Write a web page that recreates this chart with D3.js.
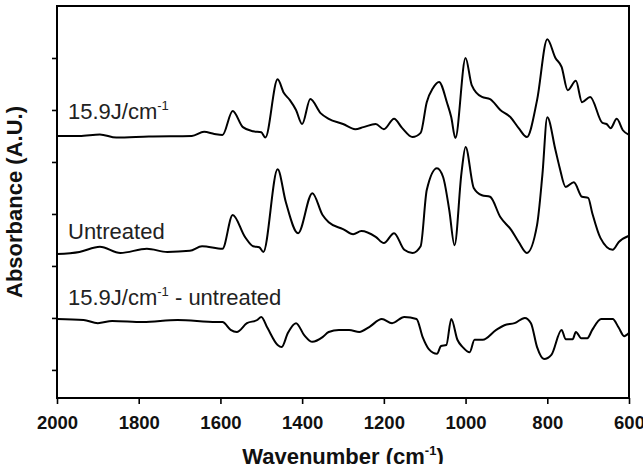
<!DOCTYPE html>
<html>
<head>
<meta charset="utf-8">
<script src="https://cdn.jsdelivr.net/npm/d3@7"></script>
<style>
  html, body { margin: 0; padding: 0; background: #fff; }
  svg { display: block; }
  text { font-family: Arial, "Liberation Sans", Helvetica, sans-serif; }
</style>
</head>
<body>
<svg id="chart" width="643" height="464"></svg>
<script>
// ---- Data (wavenumber cm^-1, absorbance A.U. with vertical offsets as plotted) ----
const xTicks = [2000, 1800, 1600, 1400, 1200, 1000, 800, 600];
const yTicks = [0, 1, 2, 3, 4, 5, 6];

const treated = [
  [2000,4.50],[1945,4.50],[1895,4.53],[1855,4.47],[1775,4.49],[1670,4.50],[1640,4.58],
  [1615,4.54],[1595,4.52],[1570,4.98],[1545,4.67],[1520,4.59],[1500,4.57],[1490,4.47],
  [1460,5.59],[1445,5.33],[1430,5.19],[1415,5.00],[1400,4.73],[1380,5.21],[1355,4.94],
  [1335,4.83],[1300,4.73],[1270,4.63],[1250,4.67],[1220,4.73],[1200,4.63],[1175,4.83],
  [1155,4.65],[1130,4.48],[1110,4.56],[1095,5.15],[1080,5.42],[1065,5.54],[1045,5.13],
  [1035,4.86],[1025,4.46],[1000,6.00],[985,5.48],[960,5.25],[940,5.21],[915,5.00],
  [890,4.86],[870,4.65],[850,4.48],[825,5.19],[800,6.36],[780,6.00],[765,5.83],
  [750,5.38],[730,5.56],[715,5.15],[695,5.25],[665,4.75],[655,4.73],[645,4.65],
  [630,4.83],[615,4.61],[600,4.52]
];

const untreated = [
  [2000,2.23],[1945,2.27],[1895,2.37],[1845,2.25],[1780,2.33],[1730,2.27],[1675,2.29],
  [1645,2.38],[1595,2.33],[1570,2.98],[1540,2.56],[1520,2.38],[1505,2.36],[1495,2.27],
  [1460,3.86],[1440,3.23],[1410,2.63],[1375,3.40],[1350,2.98],[1335,2.84],[1300,2.71],
  [1275,2.61],[1255,2.67],[1220,2.56],[1200,2.44],[1175,2.63],[1150,2.31],[1130,2.25],
  [1110,2.38],[1095,3.46],[1070,3.88],[1055,3.71],[1040,3.08],[1027,2.40],[1010,3.79],
  [1000,4.29],[980,3.50],[960,3.36],[940,3.33],[915,2.94],[888,2.69],[870,2.46],
  [850,2.25],[825,2.79],[812,3.75],[800,4.86],[780,4.23],[770,3.90],[755,3.52],
  [735,3.61],[715,3.33],[700,3.31],[690,3.02],[670,2.54],[640,2.31],[625,2.46],[600,2.58]
];

const difference = [
  [2000,0.98],[1935,0.96],[1900,0.90],[1865,0.94],[1790,0.92],[1705,0.96],[1610,0.92],
  [1595,0.92],[1575,0.77],[1560,0.73],[1535,0.90],[1510,0.96],[1500,1.02],[1485,0.81],
  [1460,0.48],[1450,0.44],[1435,0.71],[1415,0.90],[1395,0.67],[1375,0.54],[1350,0.63],
  [1335,0.73],[1310,0.77],[1285,0.77],[1260,0.73],[1235,0.83],[1205,0.98],[1180,0.90],
  [1150,1.02],[1120,0.98],[1105,0.63],[1090,0.40],[1070,0.31],[1060,0.46],[1047,0.48],
  [1035,0.98],[1020,0.58],[1007,0.44],[990,0.34],[978,0.58],[958,0.58],[925,0.77],
  [905,0.86],[880,0.90],[855,1.00],[840,0.90],[825,0.44],[808,0.21],[790,0.29],
  [765,0.77],[755,0.59],[738,0.59],[730,0.73],[717,0.61],[702,0.61],[690,0.77],
  [668,0.98],[640,0.98],[625,0.81],[612,0.65],[600,0.71]
];

const seriesLabels = ["15.9J/cm", "Untreated", "15.9J/cm"];
const labelSuffix = ["", "", " - untreated"];
const labelSup = ["-1", "", "-1"];
const labelY = [4.82, 2.51, 1.25];

// ---- Layout ----
const svg = d3.select("#chart");
const mLeft = 57, mRight = 629, mTop = 6, mBottom = 398;

const x = d3.scaleLinear().domain([2000, 600]).range([mLeft, mRight]);
const y = d3.scaleLinear().domain([-0.54, 7]).range([mBottom, mTop]);

// Axes
const xAxis = d3.axisBottom(x).tickValues(xTicks).tickSize(6).tickPadding(12).tickFormat(d3.format("d"));
const gx = svg.append("g").attr("transform", `translate(0,${mBottom})`).call(xAxis);
gx.select(".domain").remove();
gx.selectAll(".tick line").attr("stroke", "#000").attr("stroke-width", 1.6);
gx.selectAll(".tick text")
  .attr("fill", "#111")
  .style("font-size", "18.5px")
  .style("font-weight", "bold");

const yAxis = d3.axisLeft(y).tickValues(yTicks).tickSize(5).tickFormat("");
const gy = svg.append("g").attr("transform", `translate(${mLeft},0)`).call(yAxis);
gy.select(".domain").remove();
gy.selectAll(".tick line").attr("stroke", "#000").attr("stroke-width", 1.6);

// Frame
svg.append("rect")
  .attr("x", mLeft).attr("y", mTop)
  .attr("width", mRight - mLeft).attr("height", mBottom - mTop)
  .attr("fill", "none").attr("stroke", "#000").attr("stroke-width", 2);

// Lines
const line = d3.line()
  .x(d => x(d[0]))
  .y(d => y(d[1]))
  .curve(d3.curveMonotoneX);

[treated, untreated, difference].forEach(s => {
  svg.append("path")
    .datum(s)
    .attr("d", line)
    .attr("fill", "none")
    .attr("stroke", "#000")
    .attr("stroke-width", 2)
    .attr("stroke-linejoin", "round");
});

// Series labels
seriesLabels.forEach((t, i) => {
  const txt = svg.append("text")
    .attr("x", 68)
    .attr("y", y(labelY[i]))
    .attr("fill", "#222")
    .style("font-size", "22px");
  txt.append("tspan").text(t);
  if (labelSup[i]) {
    txt.append("tspan").attr("dy", -9).style("font-size", "13px").text(labelSup[i]);
    txt.append("tspan").attr("dy", 9).text(labelSuffix[i]);
  }
});

// Axis titles
const xt = svg.append("text")
  .attr("x", (mLeft + mRight) / 2)
  .attr("y", 464)
  .attr("text-anchor", "middle")
  .attr("fill", "#111")
  .style("font-size", "22px")
  .style("font-weight", "bold");
xt.append("tspan").text("Wavenumber (cm");
xt.append("tspan").attr("dy", -9).style("font-size", "13px").text("-1");
xt.append("tspan").attr("dy", 9).text(")");

svg.append("text")
  .attr("transform", "translate(22,202) rotate(-90)")
  .attr("text-anchor", "middle")
  .attr("fill", "#111")
  .style("font-size", "22px")
  .style("font-weight", "bold")
  .text("Absorbance (A.U.)");
</script>
</body>
</html>
